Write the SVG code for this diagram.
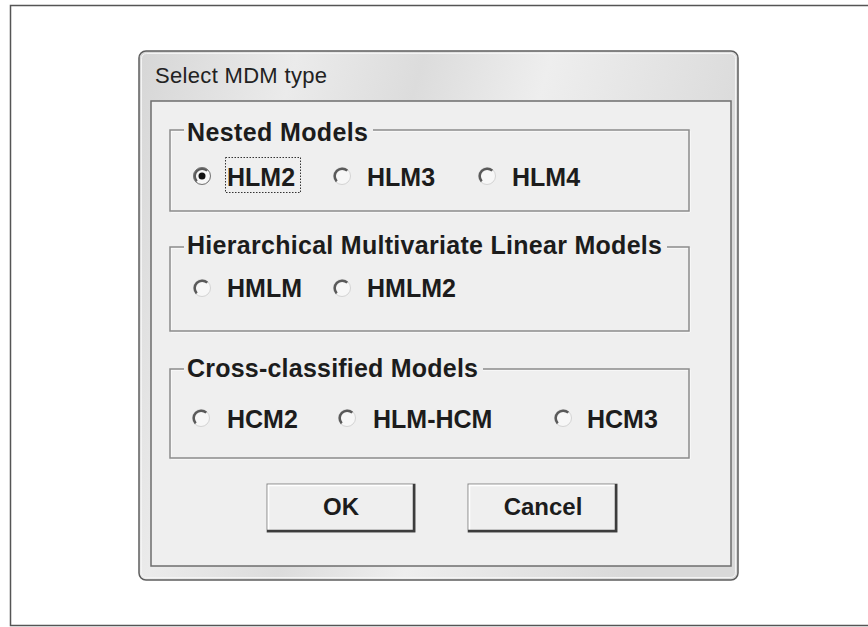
<svg xmlns="http://www.w3.org/2000/svg" xmlns:xlink="http://www.w3.org/1999/xlink" width="868" height="627" viewBox="0 0 868 627">
<defs>
<linearGradient id="frameGrad" x1="0" y1="0" x2="1" y2="0.25">
<stop offset="0" stop-color="#d6d6d6"/>
<stop offset="0.25" stop-color="#ebebeb"/>
<stop offset="0.45" stop-color="#dcdcdc"/>
<stop offset="0.65" stop-color="#eeeeee"/>
<stop offset="1" stop-color="#d9d9d9"/>
</linearGradient>
<g id="radio">
<circle cx="0" cy="0" r="8.5" fill="#f7f7f7" stroke="#d4d4d4" stroke-width="1"/>
<path d="M5.3,-5.3 A7.5,7.5 0 0 0 -5.3,5.3" fill="none" stroke="#5a5a5a" stroke-width="2.5"/>
</g>
</defs>
<style>
.title{font-family:"Liberation Sans",Arial,sans-serif;font-size:22px;fill:#222}
.lbl{font-family:"Liberation Sans",Arial,sans-serif;font-weight:bold;font-size:25px;fill:#1c1c1c}
.opt{font-family:"Liberation Sans",Arial,sans-serif;font-weight:bold;font-size:25px;fill:#1c1c1c}
.btn{font-family:"Liberation Sans",Arial,sans-serif;font-weight:bold;font-size:24px;fill:#1c1c1c;text-anchor:middle}
.gdark{fill:none;stroke:#8c8c8c;stroke-width:1.5}
.glight{fill:none;stroke:#ffffff;stroke-width:1}
</style>
<rect x="0" y="0" width="868" height="627" fill="#ffffff"/>
<path d="M868,5.5 H10.5 V625.5 H868" fill="none" stroke="#555555" stroke-width="1.5"/>

<g id="window">
<rect x="139" y="51" width="599" height="529" rx="7" fill="url(#frameGrad)" stroke="#5e5e5e" stroke-width="1.5"/>
<rect x="141.5" y="53.5" width="594" height="524" rx="5" fill="none" stroke="#f4f4f4" stroke-width="1"/>
<rect x="151" y="101" width="580" height="465" fill="#efefef" stroke="#6e6e6e" stroke-width="1.5"/>
<text class="title" x="155" y="83" textLength="172">Select MDM type</text>
</g>

<g id="group-nested">
<path class="glight" d="M184,131 H171 V212 H690 V131 H373"/>
<path class="gdark" d="M184,130 H170 V211 H689 V130 H373"/>
<text class="lbl" x="187" y="140.5" textLength="181">Nested Models</text>
</g>
<g id="group-hmlm">
<path class="glight" d="M184,248 H171 V332 H690 V248 H667"/>
<path class="gdark" d="M184,247 H170 V331 H689 V247 H667"/>
<text class="lbl" x="187" y="254" textLength="475">Hierarchical Multivariate Linear Models</text>
</g>
<g id="group-cross">
<path class="glight" d="M184,370 H171 V459 H690 V370 H483"/>
<path class="gdark" d="M184,369 H170 V458 H689 V369 H483"/>
<text class="lbl" x="187" y="377" textLength="291">Cross-classified Models</text>
</g>

<g id="opt-hlm2">
<use xlink:href="#radio" x="202" y="176"/>
<circle cx="202" cy="176" r="8.5" fill="none" stroke="#777777" stroke-width="1"/>
<circle cx="202" cy="176" r="3.5" fill="#111111"/>
<rect x="225.5" y="157.5" width="75" height="35" fill="none" stroke="#333333" stroke-width="1" stroke-dasharray="1.5 1.5"/>
<text class="opt" x="227" y="186">HLM2</text>
</g>
<g id="opt-hlm3">
<use xlink:href="#radio" x="342" y="176"/>
<text class="opt" x="367" y="186">HLM3</text>
</g>
<g id="opt-hlm4">
<use xlink:href="#radio" x="487" y="176"/>
<text class="opt" x="512" y="186">HLM4</text>
</g>
<g id="opt-hmlm">
<use xlink:href="#radio" x="202" y="288"/>
<text class="opt" x="227" y="297">HMLM</text>
</g>
<g id="opt-hmlm2">
<use xlink:href="#radio" x="342" y="288"/>
<text class="opt" x="367" y="297">HMLM2</text>
</g>
<g id="opt-hcm2">
<use xlink:href="#radio" x="201" y="418"/>
<text class="opt" x="227" y="428">HCM2</text>
</g>
<g id="opt-hlmhcm">
<use xlink:href="#radio" x="347" y="418"/>
<text class="opt" x="373" y="428">HLM-HCM</text>
</g>
<g id="opt-hcm3">
<use xlink:href="#radio" x="563" y="418"/>
<text class="opt" x="587" y="428">HCM3</text>
</g>

<g id="btn-ok">
<rect x="267" y="484" width="148" height="48" fill="#efefef" stroke="#8a8a8a" stroke-width="1"/>
<path d="M268.5,530 V485.5 H413" fill="none" stroke="#ffffff" stroke-width="1.5"/>
<path d="M267,531 H414 V484" fill="none" stroke="#3c3c3c" stroke-width="2.5"/>
<text class="btn" x="341" y="515">OK</text>
</g>
<g id="btn-cancel">
<rect x="468" y="484" width="149" height="48" fill="#efefef" stroke="#8a8a8a" stroke-width="1"/>
<path d="M469.5,530 V485.5 H615" fill="none" stroke="#ffffff" stroke-width="1.5"/>
<path d="M468,531 H616 V484" fill="none" stroke="#3c3c3c" stroke-width="2.5"/>
<text class="btn" x="543" y="515">Cancel</text>
</g>
</svg>
